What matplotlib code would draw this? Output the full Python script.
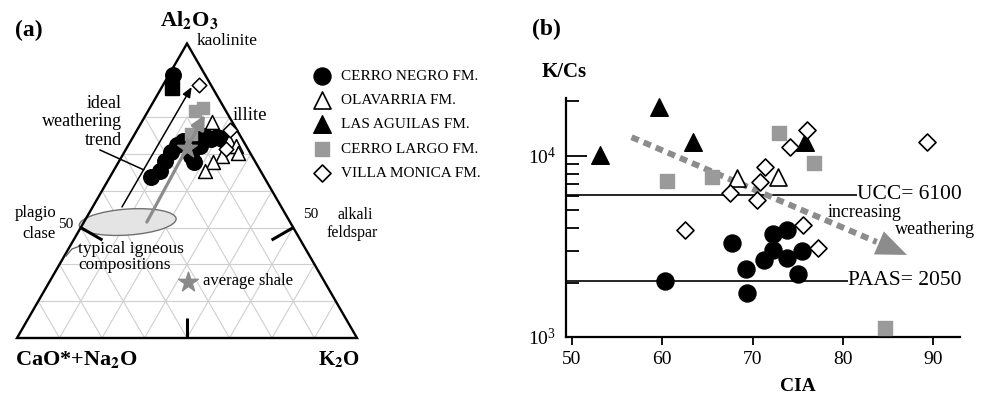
import matplotlib

matplotlib.use("Agg")
import matplotlib.pyplot as plt
import numpy as np
from matplotlib.patches import Ellipse, Polygon
from matplotlib.ticker import LogLocator, NullFormatter

plt.rcParams.update(
    {
        "font.family": ["Liberation Serif", "DejaVu Serif"],
        "mathtext.fontset": "stix",
    }
)

# ---------------- panel (a): A-CN-K ternary (molar %, A + CN + K = 100) -------------
negro_A = [91.5, 63.8, 65.4, 68.1, 70.5, 72.4, 73.5, 69.5, 67.8, 74.1, 74.9, 74.1, 74.6, 74.1, 72.2]
negro_CN = [7.5, 26.6, 23.6, 21.1, 18.5, 16.1, 14.2, 14.3, 14.4, 10.1, 8.3, 7.3, 5.6, 4.7, 10.8]
negro_K = [1.0, 9.6, 11.0, 10.8, 11.0, 11.5, 12.3, 16.2, 17.8, 15.8, 16.8, 18.6, 19.8, 21.2, 17.0]

olavarria_A = [78.7, 73.5, 72.2, 70.2, 69.5, 67.8, 65.4]
olavarria_CN = [4.8, 3.4, 2.4, 2.9, 7.0, 10.0, 13.0]
olavarria_K = [16.5, 23.1, 25.4, 26.9, 23.5, 22.2, 21.6]

largo_A = [81.7, 82.5, 75.4]
largo_CN = [7.3, 4.9, 11.4]
largo_K = [11.0, 12.6, 13.2]

monica_A = [88.7, 76.5, 71.4]
monica_CN = [2.9, 1.7, 5.1]
monica_K = [8.4, 21.8, 23.5]

extra_A, extra_CN, extra_K = [87.8], [9.7], [2.5]        # black square near the top
shale_A, shale_CN, shale_K = [71.5], [14.3], [14.2]      # average shale star

ideal_trend = [(55.6, 37.5, 6.9), (88.2, 4.8, 7.0)]
igneous_trend = [(51.5, 33.7, 14.8), (80.6, 5.5, 13.9)]
igneous_field = (51.5, 38.2, 10.3)

# ---------------- panel (b): K/Cs vs CIA ---------------------------------------------
negro_cia = [60.3, 67.7, 69.3, 69.4, 71.3, 72.3, 73.8, 72.3, 73.8, 75.5, 75.0]
negro_kcs = [2040, 3300, 2380, 1750, 2660, 3710, 3900, 3030, 2730, 2990, 2230]
olavarria_cia = [68.3, 72.8]
olavarria_kcs = [7550, 7660]
aguilas_cia = [53.1, 59.6, 63.4, 75.8]
aguilas_kcs = [10100, 18700, 11900, 11900]
largo_cia = [60.5, 65.5, 72.9, 76.8, 84.7]
largo_kcs = [7280, 7660, 13400, 9140, 1120]
monica_cia = [62.5, 67.5, 70.5, 70.8, 71.4, 74.1, 76.0, 75.6, 77.2, 89.3]
monica_kcs = [3900, 6250, 5710, 7180, 8690, 11200, 13900, 4160, 3100, 11900]

UCC = 6100
PAAS = 2050
weathering_arrow = [(56.6, 12700), (87.1, 2840)]

labels = ["CERRO NEGRO FM.", "OLAVARRIA FM.", "LAS AGUILAS FM.", "CERRO LARGO FM.", "VILLA MONICA FM."]

GRAY = "#9a9a9a"

# triangle is drawn from A = 20 (base) to A = 100 (apex), pixel-like units
A_BASE = 20.0
TRI_LEFT, TRI_BASE, TRI_SIDE = 17.0, 338.0, 340.0


def tern(a, cn, k):
    a, cn, k = (np.asarray(v, dtype=float) for v in (a, cn, k))
    tot = a + cn + k
    wa = (100 * a / tot - A_BASE) / (100 - A_BASE)
    wk = 100 * k / tot / (100 - A_BASE)
    x = TRI_LEFT + TRI_SIDE * (wk + wa / 2)
    y = TRI_BASE - TRI_SIDE * np.sqrt(3) / 2 * wa
    return x, y


fig = plt.figure(figsize=(9.86, 3.95), dpi=100)

ax_a = fig.add_axes([0, 0, 0.5, 1])
ax_a.set_xlim(0, 493)
ax_a.set_ylim(395, 0)
ax_a.axis("off")

# grid every 10 %, left empty above A = 80
grid_kw = dict(color="#cfcfcf", lw=0.8, zorder=0)
for lv in range(30, 90, 10):
    ax_a.plot(*tern([lv, lv], [100 - lv, 0], [0, 100 - lv]), **grid_kw)
for lv in range(10, 80, 10):
    top = min(80, 100 - lv)
    ax_a.plot(*tern([20, top], [80 - lv, 100 - top - lv], [lv, lv]), **grid_kw)
    ax_a.plot(*tern([20, top], [lv, lv], [80 - lv, 100 - top - lv]), **grid_kw)

corners = np.column_stack(tern([100, 20, 20], [0, 80, 0], [0, 0, 80]))
ax_a.add_patch(Polygon(corners, closed=True, fill=False, lw=1.7, ec="black", joinstyle="miter", zorder=2))

# feldspar join ticks (A = 50) and base tick
tick_kw = dict(color="black", lw=2.2, solid_capstyle="butt", zorder=2)
lx, ly = tern(50, 50, 0)
rx, ry = tern(50, 0, 50)
bx, by = tern(20, 40, 40)
ax_a.plot([lx, lx + 25 * 0.866], [ly, ly + 25 * 0.5], **tick_kw)
ax_a.plot([rx, rx - 25 * 0.866], [ry, ry + 25 * 0.5], **tick_kw)
ax_a.plot([bx, bx], [by, by - 20], **tick_kw)

ex, ey = tern(*igneous_field)
ax_a.add_patch(Ellipse((ex, ey), 97, 26, angle=-4, fc="#e4e4e4", ec="#707070", lw=1.0, zorder=1))

ax_a.scatter(*tern(negro_A, negro_CN, negro_K), s=125, marker="o", c="black", zorder=3)
ax_a.scatter(*tern(extra_A, extra_CN, extra_K), s=90, marker="s", c="black", zorder=3)
ax_a.scatter(*tern(olavarria_A, olavarria_CN, olavarria_K), s=100, marker="^", fc="white", ec="black", lw=1.1, zorder=3)
ax_a.scatter(*tern(largo_A, largo_CN, largo_K), s=85, marker="s", c=GRAY, zorder=3)
ax_a.scatter(*tern(monica_A, monica_CN, monica_K), s=55, marker="D", fc="white", ec="black", lw=1.1, zorder=3)
ax_a.scatter(*tern(shale_A, shale_CN, shale_K), s=220, marker="*", c="#8a8a8a", zorder=4)

i0, i1 = [tern(*p) for p in ideal_trend]
ax_a.annotate("", xy=i1, xytext=i0, zorder=5,
              arrowprops=dict(arrowstyle="-|>,head_length=0.6,head_width=0.25", color="black",
                              lw=1.1, mutation_scale=10, shrinkA=0, shrinkB=0))
g0, g1 = [tern(*p) for p in igneous_trend]
ax_a.annotate("", xy=g1, xytext=g0, zorder=5,
              arrowprops=dict(arrowstyle="-|>,head_length=0.6,head_width=0.3", color="#8c8c8c",
                              lw=2.3, mutation_scale=14, shrinkA=0, shrinkB=0))

# leader from label to the ideal trend line
t = 0.31
ax_a.plot([100, i0[0] + t * (i1[0] - i0[0])], [150, i0[1] + t * (i1[1] - i0[1])], color="black", lw=1.1)
ax_a.plot([66, 72, 80], [256, 249, 246], color="#606060", lw=0.9)

ax_a.text(15, 30, "(a)", fontsize=17, weight="bold", va="center")
ax_a.text(189, 20, r"Al$_\mathbf{2}$O$_\mathbf{3}$", fontsize=16, weight="bold", ha="center", va="center")
ax_a.text(197, 41, "kaolinite", fontsize=12.5, va="center")
ax_a.text(233, 115, "illite", fontsize=13.5, va="center")
ax_a.text(122, 122, "ideal\nweathering\ntrend", fontsize=13, ha="right", va="center",
          multialignment="right", linespacing=1.1)
ax_a.text(15, 213, "plagio", fontsize=12, va="center")
ax_a.text(22, 234, "clase", fontsize=12, va="center")
ax_a.text(58, 224, "50", fontsize=11, va="center")
ax_a.text(303, 215, "50", fontsize=11, va="center")
ax_a.text(338, 215, "alkali", fontsize=11.5, va="center")
ax_a.text(327, 233, "feldspar", fontsize=11.5, va="center")
ax_a.text(78, 257, "typical igneous\ncompositions", fontsize=12.5, va="center", linespacing=0.93)
ax_a.scatter([188], [282], s=220, marker="*", c="#8a8a8a", zorder=4)
ax_a.text(203, 281, "average shale", fontsize=12, va="center")
ax_a.text(15, 360, r"CaO*+Na$_\mathbf{2}$O", fontsize=16, weight="bold", va="center")
ax_a.text(318, 360, r"K$_\mathbf{2}$O", fontsize=15, weight="bold", va="center")

# ---------------- panel (b) ----------------
ax_b = fig.add_axes([566 / 986, 58 / 395, 394 / 986, 239 / 395])
ax_b.set_yscale("log")
ax_b.set_xlim(49.34, 92.97)
ax_b.set_ylim(1000, 20900)

h_negro = ax_b.scatter(negro_cia, negro_kcs, s=150, marker="o", c="black", zorder=3)
h_olav = ax_b.scatter(olavarria_cia, olavarria_kcs, s=150, marker="^", fc="white", ec="black", lw=1.2, zorder=3)
h_agu = ax_b.scatter(aguilas_cia, aguilas_kcs, s=160, marker="^", c="black", zorder=3)
h_largo = ax_b.scatter(largo_cia, largo_kcs, s=110, marker="s", c=GRAY, zorder=3)
h_mon = ax_b.scatter(monica_cia, monica_kcs, s=75, marker="D", fc="white", ec="black", lw=1.2, zorder=3)

ax_b.hlines([UCC, PAAS], 49.34, [81.6, 80.6], color="black", lw=1.2, zorder=1)
ax_b.text(81.6, UCC, "UCC= 6100", fontsize=15.5, va="center")
ax_b.text(80.6, PAAS, "PAAS= 2050", fontsize=15.5, va="center")

(w0x, w0y), (w1x, w1y) = weathering_arrow
f = 0.89
basex = w0x + f * (w1x - w0x)
basey = w0y * (w1y / w0y) ** f
ax_b.plot([w0x, basex], [w0y, basey], color="#8c8c8c", lw=4.3, linestyle=(0, (1.3, 0.9)),
          dash_capstyle="butt", zorder=2)
ax_b.annotate("", xy=(w1x, w1y), xytext=(basex, basey), zorder=2,
              arrowprops=dict(arrowstyle="-|>,head_length=1.1,head_width=0.45", color="#8c8c8c",
                              lw=0, mutation_scale=20, shrinkA=0, shrinkB=0))
ax_b.text(78.3, 4900, "increasing", fontsize=13, va="center")
ax_b.text(85.8, 3900, "weathering", fontsize=13, va="center")

for side in ("top", "right"):
    ax_b.spines[side].set_visible(False)
for side in ("left", "bottom"):
    ax_b.spines[side].set_linewidth(1.6)
ax_b.set_xticks([50, 60, 70, 80, 90])
ax_b.yaxis.set_major_locator(LogLocator(base=10))
ax_b.yaxis.set_minor_locator(LogLocator(base=10, subs=np.arange(2, 10)))
ax_b.yaxis.set_minor_formatter(NullFormatter())
ax_b.tick_params(axis="x", direction="out", length=6, width=1.3, labelsize=14, pad=4)
ax_b.tick_params(axis="y", which="major", direction="in", length=15, width=1.3, labelsize=14, pad=7)
ax_b.tick_params(axis="y", which="minor", direction="in", length=9, width=1.3)

ax_b.text(-0.004, 1.109, "K/Cs", transform=ax_b.transAxes, fontsize=15, weight="bold", ha="center", va="center")
ax_b.text(-0.05, 1.285, "(b)", transform=ax_b.transAxes, fontsize=17, weight="bold", ha="center", va="center")
ax_b.text(0.589, -0.209, "CIA", transform=ax_b.transAxes, fontsize=14, weight="bold", ha="center", va="center")

ax_a.legend([h_negro, h_olav, h_agu, h_largo, h_mon], labels, loc="upper left",
            bbox_to_anchor=(314 / 493, 1 - 69 / 395), frameon=False, fontsize=11,
            handlelength=1.0, handletextpad=0.75, labelspacing=0.7, borderpad=0,
            borderaxespad=0, scatterpoints=1)

fig.savefig("out.png", dpi=100)
